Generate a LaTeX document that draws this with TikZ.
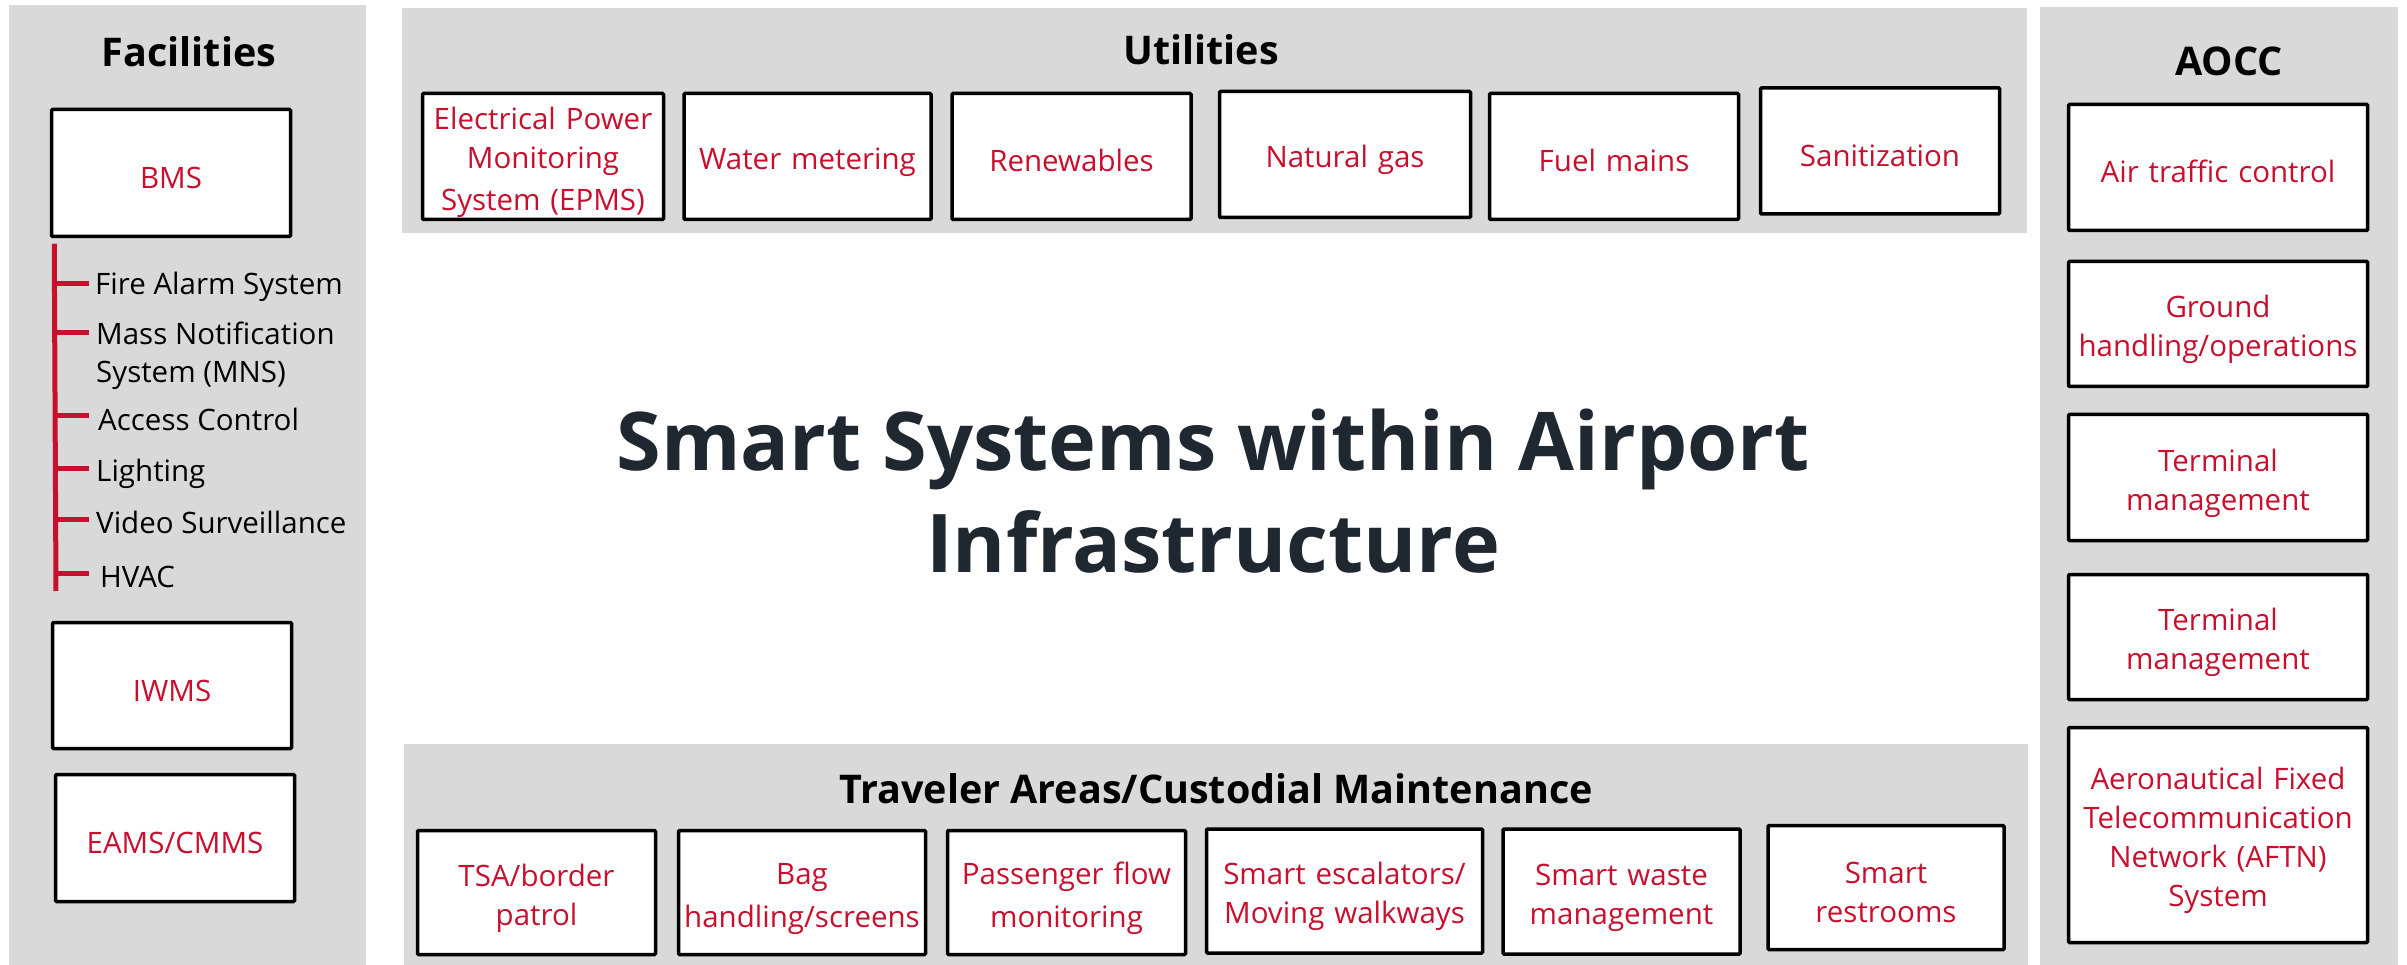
\documentclass[tikz,border=0pt]{standalone}
\usepackage{fontspec}
\setmainfont{Open Sans}
\usetikzlibrary{positioning}

\definecolor{panelgrey}{HTML}{D9D9D9}
\definecolor{sysred}{HTML}{C8102E}
\definecolor{titleink}{HTML}{1F2730}

\newcommand{\boxstrut}{\rule[-3pt]{0pt}{37pt}}

\tikzset{
  panel/.style={fill=panelgrey, draw=none, inner sep=0pt, anchor=north west},
  heading/.style={font=\bfseries\fontsize{39.5}{48}\selectfont, inner sep=0pt, anchor=base},
  sysbox/.style={draw=black, line width=3.5pt, fill=white, text=sysred, align=center,
    inner sep=0pt, rounded corners=1pt, font=\fontsize{29.5}{39}\selectfont,
    text width=#1, minimum width=#1, minimum height=126pt,
    execute at begin node=\boxstrut, execute at end node=\boxstrut},
  sysbox/.default=247pt,
  item/.style={font=\fontsize{29.5}{38}\selectfont, align=left, inner sep=0pt, anchor=base west},
  branch/.style={draw=sysred, line width=5pt},
}

\begin{document}
\begin{tikzpicture}[x=1pt, y=-1pt]
  \useasboundingbox (0,0) rectangle (2407,965);
  \fill[white] (0,0) rectangle (2407,965);

  % grey panels
  \node[panel, minimum width=357pt, minimum height=960pt] (facil) at (9,5) {};
  \node[panel, minimum width=1625pt, minimum height=225pt] (util) at (402,8) {};
  \node[panel, minimum width=1624pt, minimum height=221pt] (travel) at (404,744) {};
  \node[panel, minimum width=358pt, minimum height=958pt] (aocc) at (2040,7) {};

  \node[heading] (facilT) at (189,67) {Facilities};
  \node[heading] (utilT) at (1201,65) {Utilities};
  \node[heading] (aoccT) at (2229,76) {AOCC};
  \node[heading] (travelT) at (1216,803) {Traveler Areas/Custodial Maintenance};

  % centre title
  \node[font=\bfseries\fontsize{81}{102}\selectfont, text=titleink, align=center,
    inner sep=0pt, anchor=base] (title) at (1213,572)
    {Smart Systems within Airport\\Infrastructure};

  % facilities
  \node[sysbox=239pt, minimum height=127pt] (bms) at (171,173) {BMS};
  \node[sysbox=239pt] (iwms) at (172,685.5) {IWMS};
  \node[sysbox=239pt, minimum height=127pt, below=22.5pt of iwms, xshift=3pt] (eams) {EAMS/CMMS};

  \coordinate (trunk) at ([xshift=4.5pt, yshift=-5.5pt]bms.south west);
  \coordinate (trunkend) at (56,591);
  \draw[branch] (trunk) -- (trunkend);

  \node[item] (fire) at (95,295) {Fire Alarm System};
  \node[item] (mns) at (96,383) {Mass Notification\\System (MNS)};
  \node[item] (access) at (98,430) {Access Control};
  \node[item] (light) at (96,481) {Lighting};
  \node[item] (video) at (96,533) {Video Surveillance};
  \node[item] (hvac) at (100,587) {HVAC};
  \foreach \n/\dy in {fire/11, mns/50, access/14, light/13, video/14, hvac/14}
    \draw[branch] ([yshift=\dy pt]\n.base west -| trunk) -- ([yshift=\dy pt, xshift=-6pt]\n.base west -| fire.west);

  % utilities
  \node[sysbox=241pt] (epms) at (543,156.5) {Electrical Power\\Monitoring\\System (EPMS)};
  \node[sysbox, right=17pt of epms] (water) {Water metering};
  \node[sysbox=239pt, right=17.5pt of water] (renew) {Renewables};
  \node[sysbox=251pt, right=25pt of renew, yshift=2pt] (gas) {Natural gas};
  \node[sysbox=249pt, right=15.5pt of gas, yshift=-2pt] (fuel) {Fuel mains};
  \node[sysbox=239pt, right=18.5pt of fuel, yshift=5.5pt] (sanit) {Sanitization};

  % traveler areas
  \node[sysbox=238pt, minimum height=124pt] (tsa) at (536.5,892.5) {TSA/border\\patrol};
  \node[sysbox, minimum height=124pt, right=19.5pt of tsa] (bag) {Bag\\handling/screens};
  \node[sysbox=238pt, minimum height=124pt, right=18.5pt of bag] (flow) {Passenger flow\\monitoring};
  \node[sysbox=276pt, minimum height=124pt, right=17.5pt of flow, yshift=1.5pt] (escal) {Smart escalators/\\Moving walkways};
  \node[sysbox=237pt, minimum height=125pt, right=17pt of escal, yshift=-0.5pt] (waste) {Smart waste\\management};
  \node[sysbox=236pt, minimum height=124pt, right=24.5pt of waste, yshift=4pt] (rest) {Smart\\restrooms};

  % aocc
  \node[sysbox=299pt] (atc) at (2218,167.5) {Air traffic control};
  \node[sysbox=299pt, minimum height=125pt, below=27.5pt of atc] (ground) {Ground\\handling/operations};
  \node[sysbox=299pt, below=24.5pt of ground] (term1) {Terminal\\management};
  \node[sysbox=299pt, minimum height=125pt, below=30.5pt of term1] (term2) {Terminal\\management};
  \node[sysbox=299pt, minimum height=215pt, below=24.5pt of term2] (aftn) {Aeronautical Fixed\\Telecommunication\\Network (AFTN)\\System};
\end{tikzpicture}
\end{document}
